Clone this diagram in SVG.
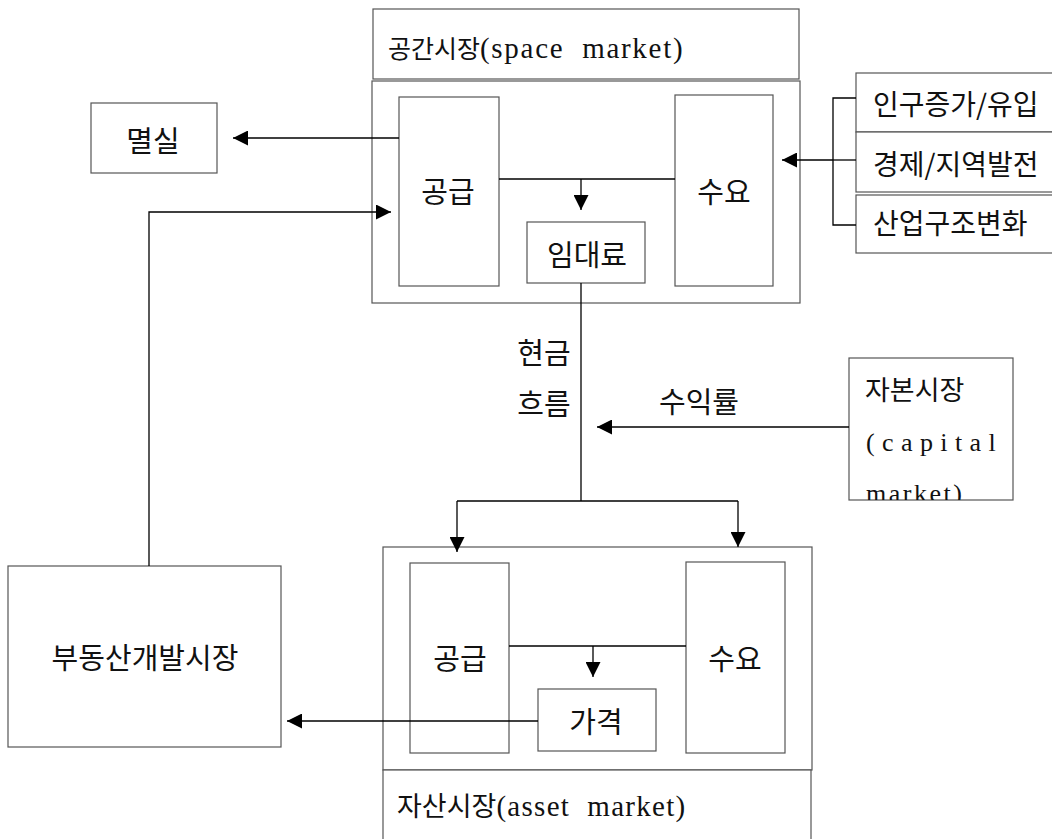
<svg xmlns="http://www.w3.org/2000/svg" width="1052" height="839" viewBox="0 0 1052 839">
  <style>
    .box { fill: #fff; stroke: #555; stroke-width: 1.2; }
    .wire { fill: none; stroke: #000; stroke-width: 1.3; }
    .lbl { font-family: "Noto Sans CJK KR", sans-serif; font-size: 29px; fill: #111; text-anchor: middle; dominant-baseline: central; }
    .side { font-family: "Noto Sans CJK KR", sans-serif; font-size: 28px; fill: #111; dominant-baseline: central; }
    .mix { font-family: "Liberation Serif", "Noto Sans CJK KR", serif; font-size: 26px; fill: #111; white-space: pre; }
    .ko { font-family: "Noto Sans CJK KR", sans-serif; }
    .en { font-family: "Liberation Serif", serif; }
  </style>
  <defs>
    <marker id="ah" viewBox="0 0 15 15" refX="15" refY="7.5" markerWidth="15" markerHeight="15" markerUnits="userSpaceOnUse" orient="auto">
      <path d="M0,0 L15,7.5 L0,15 z" fill="#000"/>
    </marker>
    <clipPath id="capClip"><rect x="849" y="358" width="164" height="142"/></clipPath>
  </defs>
  <rect width="1052" height="839" fill="#fff"/>

  <!-- space market: header band and body -->
  <g id="space-market">
    <rect class="box" x="373" y="9" width="426" height="70"/>
    <rect class="box" x="372" y="81" width="428" height="222"/>
    <text class="mix" x="388" y="58"><tspan class="ko" style="font-size:25px">공간시장</tspan><tspan class="en" style="font-size:29px" letter-spacing="1.7">(space  market)</tspan></text>
  </g>
  <g id="space-supply">
    <rect class="box" x="399" y="97" width="100" height="189"/>
    <text class="lbl" x="448" y="190">공급</text>
  </g>
  <g id="space-demand">
    <rect class="box" x="675" y="95" width="98" height="191"/>
    <text class="lbl" x="724" y="190">수요</text>
  </g>
  <g id="rent">
    <rect class="box" x="527" y="222" width="118" height="61"/>
    <text class="lbl" x="587" y="253">임대료</text>
  </g>

  <!-- removal from stock -->
  <g id="loss">
    <rect class="box" x="91" y="103" width="126" height="70"/>
    <text class="lbl" x="153" y="139">멸실</text>
  </g>

  <!-- demand drivers -->
  <g id="drivers">
    <rect class="box" x="856" y="73" width="210" height="59"/>
    <rect class="box" x="856" y="132" width="210" height="60"/>
    <rect class="box" x="856" y="195" width="210" height="58"/>
    <text class="side" x="873" y="103">인구증가/유입</text>
    <text class="side" x="873" y="163">경제/지역발전</text>
    <text class="side" x="873" y="222">산업구조변화</text>
  </g>

  <!-- capital market -->
  <g id="capital-market">
    <rect class="box" x="849" y="358" width="164" height="142"/>
    <text class="side" x="865" y="388" style="font-size:27px">자본시장</text>
    <g clip-path="url(#capClip)">
      <text class="mix" x="866" y="451" style="font-size:26px" letter-spacing="7.4">(capital</text>
      <text class="mix" x="866" y="502" style="font-size:26px" letter-spacing="2.5">market)</text>
    </g>
  </g>

  <!-- asset market: body and header band -->
  <g id="asset-market">
    <rect class="box" x="383" y="547" width="429" height="223"/>
    <rect class="box" x="383" y="770" width="428" height="80"/>
    <text class="mix" x="397" y="816"><tspan class="ko" style="font-size:27px">자산시장</tspan><tspan class="en" style="font-size:29px" letter-spacing="1.3">(asset  market)</tspan></text>
  </g>
  <g id="asset-supply">
    <rect class="box" x="410" y="563" width="99" height="190"/>
    <text class="lbl" x="460" y="657">공급</text>
  </g>
  <g id="asset-demand">
    <rect class="box" x="686" y="562" width="99" height="191"/>
    <text class="lbl" x="735" y="657">수요</text>
  </g>
  <g id="price">
    <rect class="box" x="538" y="689" width="118" height="62"/>
    <text class="lbl" x="596" y="720">가격</text>
  </g>

  <!-- development market -->
  <g id="development">
    <rect class="box" x="8" y="566" width="273" height="181"/>
    <text class="lbl" x="145" y="656">부동산개발시장</text>
  </g>

  <g id="connectors">
    <!-- space market loop -->
    <line class="wire" x1="399" y1="138" x2="233" y2="138" marker-end="url(#ah)"/>
    <line class="wire" x1="499" y1="179" x2="675" y2="179"/>
    <line class="wire" x1="581" y1="179" x2="581" y2="210" marker-end="url(#ah)"/>
    <!-- drivers bracket -->
    <polyline class="wire" points="856,98 833,98 833,225 856,225"/>
    <line class="wire" x1="833" y1="160" x2="856" y2="160"/>
    <line class="wire" x1="833" y1="160" x2="782" y2="160" marker-end="url(#ah)"/>
    <!-- cash flow down to asset market -->
    <line class="wire" x1="581" y1="283" x2="581" y2="501"/>
    <line class="wire" x1="457" y1="501" x2="738" y2="501"/>
    <line class="wire" x1="457" y1="501" x2="457" y2="552" marker-end="url(#ah)"/>
    <line class="wire" x1="738" y1="501" x2="738" y2="547" marker-end="url(#ah)"/>
    <text class="lbl" x="544" y="351">현금</text>
    <text class="lbl" x="544" y="402">흐름</text>
    <!-- yield from capital market -->
    <line class="wire" x1="849" y1="427" x2="597" y2="427" marker-end="url(#ah)"/>
    <text class="lbl" x="699" y="400">수익률</text>
    <!-- asset market price -->
    <line class="wire" x1="509" y1="646" x2="686" y2="646"/>
    <line class="wire" x1="593" y1="646" x2="593" y2="677" marker-end="url(#ah)"/>
    <line class="wire" x1="538" y1="721" x2="287" y2="721" marker-end="url(#ah)"/>
    <!-- new construction back to space supply -->
    <polyline class="wire" points="149,566 149,212 391,212" marker-end="url(#ah)"/>
  </g>
</svg>
